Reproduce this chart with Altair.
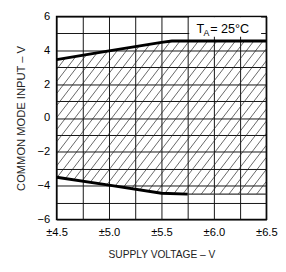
import altair as alt
import numpy as np
import pandas as pd

# ---- data ----
supply_top = [4.5, 5.0, 5.5, 5.6, 6.5]
cm_top = [3.45, 3.97, 4.47, 4.55, 4.55]
supply_bot = [4.5, 5.0, 5.5, 5.75]
cm_bot = [-3.5, -3.97, -4.45, -4.5]
supply_bot_ext = [5.75, 6.5]
cm_bot_ext = [-4.5, -4.5]

x_grid = [4.5, 4.75, 5.0, 5.25, 5.5, 5.75, 6.0, 6.25, 6.5]
y_grid = [-6, -5, -4, -3, -2, -1, 0, 1, 2, 3, 4, 5, 6]

FONT = "Liberation Sans"

top_df = pd.DataFrame({"v": supply_top, "cm": cm_top})
bot_df = pd.DataFrame({"v": supply_bot, "cm": cm_bot})
ext_df = pd.DataFrame({"v": supply_bot_ext, "cm": cm_bot_ext})

# ---- hatch pattern clipped to the region between the curves ----
lo_x = supply_bot + supply_bot_ext[1:]
lo_y = cm_bot + cm_bot_ext[1:]
slope = 8.1
spacing = 0.088
xs = np.linspace(4.5, 6.5, 8001)
up = np.interp(xs, supply_top, cm_top)
lo = np.interp(xs, lo_x, lo_y)
rows = []
c = 4.5 - 5.0 / slope
while c < 6.5 + 5.0 / slope:
    yl = slope * (xs - c)
    m = (yl <= up) & (yl >= lo)
    if m.any():
        idx = np.where(m)[0]
        rows.append({"v": xs[idx[0]], "cm": yl[idx[0]],
                     "v2": xs[idx[-1]], "cm2": yl[idx[-1]]})
    c += spacing
hatch_df = pd.DataFrame(rows)

xscale = alt.Scale(domain=[4.5, 6.5], nice=False, zero=False)
yscale = alt.Scale(domain=[-6, 6], nice=False, zero=False)

xaxis = alt.Axis(values=x_grid, grid=True, gridColor="#111", gridWidth=1,
                 ticks=False, domain=False, labelFlush=False, labelOverlap=False,
                 labelExpr="(datum.value*2) % 1 == 0 ? '±' + format(datum.value, '.1f') : ''",
                 labelFont=FONT, labelFontSize=11.5, labelColor="#000", labelPadding=8,
                 title="SUPPLY VOLTAGE – V", titleFont=FONT, titleFontSize=10.5,
                 titleFontWeight="normal", titleColor="#222", titlePadding=12)
yaxis = alt.Axis(values=y_grid, grid=True, gridColor="#111", gridWidth=1,
                 ticks=False, domain=False, labelOverlap=False, labelFlush=False,
                 labelExpr="datum.value % 2 == 0 ? datum.label : ''",
                 labelFont=FONT, labelFontSize=11.5, labelColor="#000", labelPadding=7,
                 title="COMMON MODE INPUT – V", titleFont=FONT, titleFontSize=11.5,
                 titleFontWeight="normal", titleColor="#222", titlePadding=11)

X = alt.X("v:Q", scale=xscale, axis=xaxis, title="SUPPLY VOLTAGE – V")
Y = alt.Y("cm:Q", scale=yscale, axis=yaxis, title="COMMON MODE INPUT – V")

hatch = alt.Chart(hatch_df).mark_rule(color="#222", strokeWidth=0.7).encode(
    x=X, y=Y, x2="v2:Q", y2="cm2:Q",
)

line_top = alt.Chart(top_df).mark_line(color="black", strokeWidth=3).encode(x=X, y=Y)
line_bot = alt.Chart(bot_df).mark_line(color="black", strokeWidth=3).encode(x=X, y=Y)
line_ext = alt.Chart(ext_df).mark_line(color="#333", strokeWidth=1.2).encode(x=X, y=Y)

box_df = pd.DataFrame({"v": [5.765], "v2": [6.45], "cm": [4.8], "cm2": [5.95]})
box = alt.Chart(box_df).mark_rect(color="white").encode(
    x=X, x2="v2:Q", y=Y, y2="cm2:Q")

lab_df = pd.DataFrame({"v": [5.835], "cm": [5.25]})
t1 = alt.Chart(lab_df).mark_text(text="T", align="left", baseline="middle",
                                 font=FONT, fontSize=13, color="black").encode(x=X, y=Y)
t2 = alt.Chart(lab_df).mark_text(text="A", align="left", baseline="middle",
                                 font=FONT, fontSize=9, color="black", dx=7, dy=4).encode(x=X, y=Y)
t3 = alt.Chart(lab_df).mark_text(text="= 25°C", align="left", baseline="middle",
                                 font=FONT, fontSize=13, color="black", dx=14).encode(x=X, y=Y)

chart = alt.layer(hatch, line_ext, line_top, line_bot, box, t1, t2, t3).properties(
    width=216, height=209,
    autosize=alt.AutoSizeParams(type="none"),
    padding={"left": 50, "top": 5, "right": 12, "bottom": 40},
    background="white",
).configure_view(stroke="black", strokeWidth=1.5)

chart.save("out.html", embed_options={"renderer": "svg", "actions": False})
